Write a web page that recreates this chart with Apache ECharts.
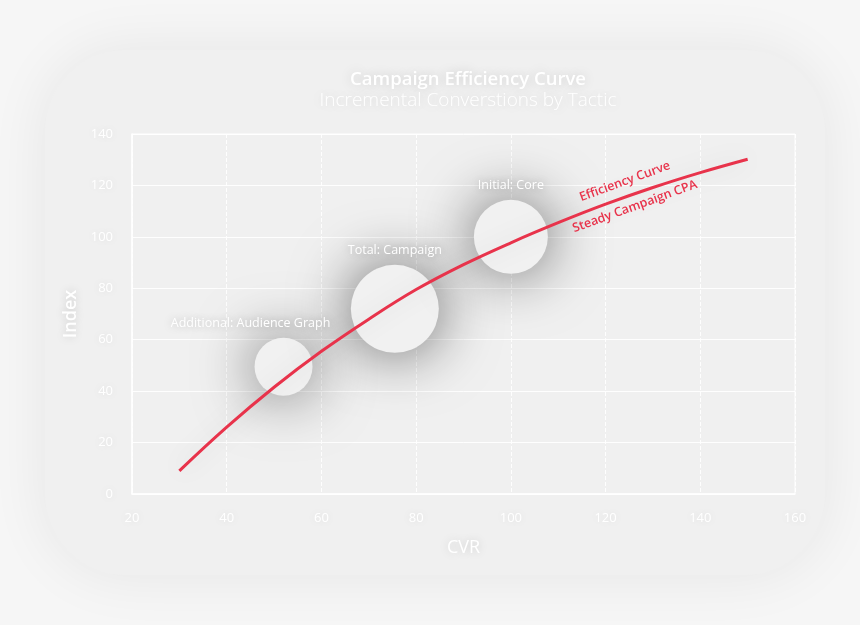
<!doctype html>
<html>
<head>
<meta charset="utf-8">
<script src="https://cdn.jsdelivr.net/npm/echarts@6/dist/echarts.min.js"></script>
<style>
    html, body {margin: 0;padding: 0;background: #f6f6f6;}
    #chart {width: 860px;height: 625px;}
</style>
</head>
<body>
<div id="chart"></div>
<script>
    // efficiency curve
    var curveX = [30, 40, 50, 60, 70, 80, 90, 100, 110, 120, 130, 140, 150];
    var curveY = [9, 26, 41.5, 55.5, 68, 79.5, 89.2, 97.7, 105.5, 112.7, 119.2, 125, 130.2];

    // tactics (bubbles)
    var tactics = ['Additional: Audience Graph', 'Total: Campaign', 'Initial: Core'];
    var tacticX = [52, 75.5, 100];
    var tacticY = [49.5, 72, 100];
    var tacticSize = [58, 88, 74];

    var xTicks = [20, 40, 60, 80, 100, 120, 140, 160];
    var yTicks = [0, 20, 40, 60, 80, 100, 120, 140];

    var red = '#e8334b';
    var font = '"Open Sans", "Noto Sans", sans-serif';
    var halo = 'rgba(0,0,0,0.18)';

    var curveData = curveX.map(function (x, i) {
        return [x, curveY[i]];
    });
    var bubbleData = tactics.map(function (name, i) {
        return {
            name: name,
            value: [tacticX[i], tacticY[i], tacticSize[i]],
            label: i === 0 ? {offset: [-33, 0]} : {}
        };
    });

    var myChart = echarts.init(document.getElementById('chart'));

    var option = {
        backgroundColor: '#f6f6f6',
        textStyle: {fontFamily: font},
        graphic: [
            {
                type: 'rect', z: -10, silent: true,
                shape: {x: 45, y: 50, width: 780, height: 525, r: 80},
                style: {fill: '#f0f0f0', shadowBlur: 60, shadowColor: 'rgba(0,0,0,0.07)'}
            }
        ],
        title: {
            text: 'Campaign Efficiency Curve',
            subtext: 'Incremental Converstions by Tactic',
            left: 463,
            top: 65,
            textAlign: 'center',
            itemGap: 2,
            textStyle: {
                color: '#ffffff', fontSize: 18.5, fontWeight: 600, fontFamily: font,
                textShadowColor: halo, textShadowBlur: 12
            },
            subtextStyle: {
                color: '#ffffff', fontSize: 19, fontWeight: 300, fontFamily: font,
                textShadowColor: halo, textShadowBlur: 12
            }
        },
        grid: {
            left: 132, right: 65, top: 134, bottom: 131,
            show: true, borderColor: 'rgba(255,255,255,0.9)', borderWidth: 1
        },
        xAxis: {
            type: 'value',
            min: xTicks[0], max: xTicks[xTicks.length - 1], interval: 20,
            name: 'CVR', nameLocation: 'middle', nameGap: 45,
            nameTextStyle: {
                color: '#ffffff', fontSize: 18, fontFamily: font,
                textShadowColor: halo, textShadowBlur: 10
            },
            axisLine: {lineStyle: {color: '#ffffff', width: 1.5}},
            axisTick: {show: false},
            axisLabel: {
                color: '#ffffff', fontSize: 13, margin: 18, fontFamily: font,
                textShadowColor: 'rgba(0,0,0,0.1)', textShadowBlur: 8
            },
            splitLine: {lineStyle: {color: 'rgba(255,255,255,0.9)', type: 'dashed'}}
        },
        yAxis: {
            type: 'value',
            min: yTicks[0], max: yTicks[yTicks.length - 1], interval: 20,
            name: 'Index', nameLocation: 'middle', nameGap: 42,
            nameTextStyle: {
                color: '#ffffff', fontSize: 18, fontWeight: 600, fontFamily: font,
                textShadowColor: halo, textShadowBlur: 10
            },
            axisLine: {show: true, lineStyle: {color: '#ffffff', width: 1.5}},
            axisTick: {show: false},
            axisLabel: {
                color: '#ffffff', fontSize: 13, margin: 19, fontFamily: font,
                textShadowColor: 'rgba(0,0,0,0.1)', textShadowBlur: 8
            },
            splitLine: {lineStyle: {color: 'rgba(255,255,255,0.9)'}}
        },
        series: [
            {
                type: 'scatter',
                data: bubbleData,
                symbolSize: function (v) {
                    return v[2];
                },
                itemStyle: {
                    color: '#f1f1f1', opacity: 1,
                    shadowBlur: 60, shadowColor: 'rgba(0,0,0,0.6)'
                },
                label: {
                    show: true, position: 'top', distance: 8,
                    formatter: '{b}',
                    color: '#ffffff', fontSize: 12.5, fontFamily: font,
                    textShadowColor: 'rgba(0,0,0,0.25)', textShadowBlur: 8
                },
                z: 3
            },
            {
                type: 'line',
                data: curveData,
                smooth: 0.4,
                symbol: 'none',
                lineStyle: {
                    color: red, width: 3,
                    shadowBlur: 25, shadowColor: 'rgba(0,0,0,0.15)'
                },
                markPoint: {
                    symbolSize: 0,
                    silent: true,
                    label: {
                        show: true, position: 'inside', rotate: 20,
                        color: red, fontSize: 12.5, fontWeight: 600, fontFamily: font,
                        formatter: '{b}'
                    },
                    data: [
                        {name: 'Efficiency Curve', coord: [124.1, 121.5]},
                        {name: 'Steady Campaign CPA', coord: [126.2, 111.8]}
                    ]
                },
                z: 4
            }
        ]
    };

    myChart.setOption(option);
    window.addEventListener("resize", function () {
        myChart.resize();
    });
</script>
</body>
</html>
